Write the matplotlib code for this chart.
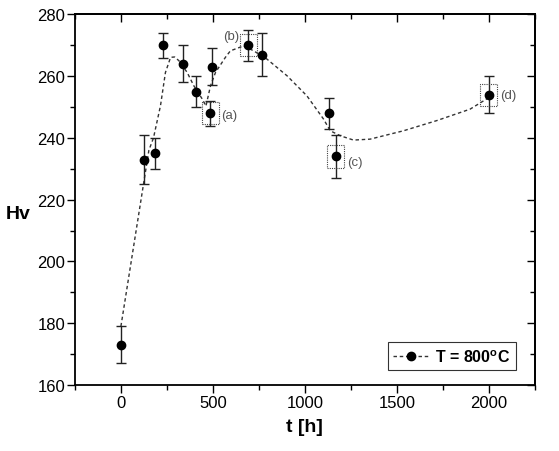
import matplotlib
matplotlib.use('Agg')
import matplotlib.pyplot as plt
from matplotlib.patches import Rectangle
from matplotlib.lines import Line2D

# measured hardness
t = [0, 125, 187, 230, 338, 409, 485, 497, 691, 769, 1130, 1168, 2000]
hv = [173, 233, 235, 270, 264, 255, 248, 263, 270, 267, 248, 234, 254]
hv_err = [6, 8, 5, 4, 6, 5, 4, 6, 5, 7, 5, 7, 6]

# dashed guide curve
curve_t = [0, 152, 177, 215, 242, 270, 292, 315, 360, 396, 442, 462, 487, 514, 568,
           595, 667, 721, 794, 903, 1011, 1101, 1138, 1192, 1264, 1354, 1535, 1716,
           1897, 1987, 2000]
curve_hv = [179, 236, 240, 250.4, 261.2, 266.1, 266.2, 265, 261.2, 256.9, 252.6, 250.3,
            256.9, 261.2, 266.1, 268.2, 269.8, 268.2, 265.5, 260.1, 253.6, 246.1, 242.3,
            240.7, 239.3, 239.6, 242.3, 245.6, 249.3, 252.6, 254]

# marked samples
marked_idx = [6, 8, 11, 12]
marked_lbl = ['(a)', '(b)', '(c)', '(d)']
lbl_offset = [(8, -1), (-6, 7), (8, -4), (8, 0)]
lbl_ha = ['left', 'right', 'left', 'left']

plt.rcParams['font.family'] = ['Liberation Sans', 'DejaVu Sans']
plt.rcParams['mathtext.fontset'] = 'custom'
plt.rcParams['mathtext.rm'] = 'Liberation Sans'
plt.rcParams['mathtext.bf'] = 'Liberation Sans:bold'

fig = plt.figure(figsize=(5.59, 4.52), dpi=100)
ax = fig.add_axes([0.134, 0.146, 0.823, 0.820])

ax.plot(curve_t, curve_hv, color='#333333', lw=1.0, ls=(0, (2.5, 2)), zorder=2)
ax.errorbar(t, hv, yerr=hv_err, fmt='o', color='black', ecolor='#222222',
            elinewidth=1.0, capsize=3.3, capthick=1.0, markersize=6, zorder=3)

for i, lbl, off, ha in zip(marked_idx, marked_lbl, lbl_offset, lbl_ha):
    ax.add_patch(Rectangle((t[i] - 46, hv[i] - 3.6), 92, 7.2, fill=False,
                           ec='#444444', lw=0.8, ls=(0, (1, 1)), zorder=4))
    ax.annotate(lbl, (t[i], hv[i]), xytext=off, textcoords='offset points',
                ha=ha, va='center', fontsize=9.5, color='#555555')

ax.set_xlim(-250, 2250)
ax.set_ylim(160, 280)
ax.set_xticks([0, 500, 1000, 1500, 2000])
ax.set_xticks([-250, 250, 750, 1250, 1750, 2250], minor=True)
ax.set_yticks(range(160, 281, 20))
ax.set_yticks(range(170, 280, 20), minor=True)
ax.tick_params(which='both', direction='out', width=1.0, labelsize=12, pad=1)
ax.tick_params(which='major', length=6)
ax.tick_params(which='minor', length=3.5)
for s in ax.spines.values():
    s.set_linewidth(1.3)

# inward ticks on top and right
top = ax.secondary_xaxis('top')
top.set_xticks([0, 500, 1000, 1500, 2000])
top.set_xticks([-250, 250, 750, 1250, 1750, 2250], minor=True)
top.tick_params(which='both', direction='in', labeltop=False, width=1.0)
top.tick_params(which='major', length=6)
top.tick_params(which='minor', length=3.5)
top.spines['top'].set_linewidth(1.3)
right = ax.secondary_yaxis('right')
right.set_yticks(range(160, 281, 20))
right.set_yticks(range(170, 280, 20), minor=True)
right.tick_params(which='both', direction='in', labelright=False, width=1.0)
right.tick_params(which='major', length=6)
right.tick_params(which='minor', length=3.5)
right.spines['right'].set_linewidth(1.3)

ax.set_xlabel('t [h]', fontsize=14, fontweight='bold', labelpad=6)
ax.set_ylabel('Hv', fontsize=14, fontweight='bold', rotation=0, va='center', ha='center')
ax.yaxis.set_label_coords(-0.124, 0.462)

handle = Line2D([], [], color='#333333', lw=1.0, ls=(0, (2.5, 2)), marker='o',
                markerfacecolor='black', markeredgecolor='black', markersize=6)
leg = ax.legend([handle], [r'T = 800$^\mathbf{o}$C'], loc='lower right',
                bbox_to_anchor=(0.958, 0.04), borderaxespad=0, frameon=True, fancybox=False,
                handlelength=2.2, borderpad=0.35, handletextpad=0.4,
                prop={'weight': 'bold', 'size': 11.5})
leg.get_frame().set_edgecolor('black')
leg.get_frame().set_linewidth(0.8)

fig.savefig('out.png', dpi=100)
